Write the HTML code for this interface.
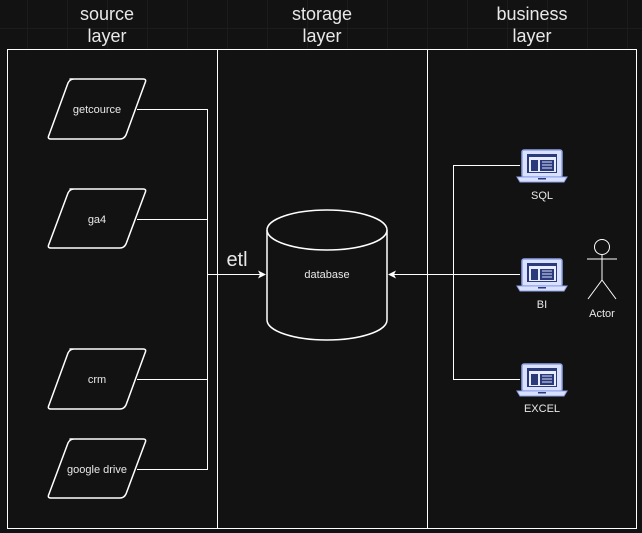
<!DOCTYPE html>
<html><head><style>
html,body{margin:0;padding:0;background:#121212;}
body{width:642px;height:533px;overflow:hidden;position:relative;
background-color:#121212;
background-image:linear-gradient(#1c1c1c 1px,transparent 1px),linear-gradient(90deg,#1c1c1c 1px,transparent 1px);
background-size:40px 40px;background-position:27px 28px;}
svg{position:absolute;left:0;top:0}
text{font-family:"Liberation Sans",sans-serif;fill:#e8e8e8}
</style></head><body>
<svg width="642" height="533" viewBox="0 0 642 533">
<defs>
<marker id="ar" markerWidth="8" markerHeight="8" refX="7" refY="4" orient="auto" markerUnits="userSpaceOnUse">
<path d="M0,0 L8,4 L0,8 L2,4 Z" fill="#fff"/></marker>
<g id="lap">
<rect x="-20" y="-16" width="40" height="27" rx="2" fill="#dae0ff" stroke="#8fa3e8" stroke-width="1.5"/>
<rect x="-15" y="-12" width="30" height="19" fill="#2b3a78"/>
<rect x="-13" y="-9" width="27" height="15" fill="#e8ecff"/>
<rect x="-11" y="-6" width="7" height="11" fill="#2b3a78"/>
<rect x="-2" y="-6" width="14" height="11" fill="#2b3a78"/>
<path d="M0,-4h10M0,-1h10M0,2h10" stroke="#dae0ff" stroke-width="1"/>
<path d="M-25,11 h50 l-3,5 h-44 z" fill="#dae0ff" stroke="#8fa3e8"/>
<rect x="-4" y="12" width="8" height="1.5" fill="#2b3a78"/>
</g>
</defs>
<rect x="0" y="49" width="642" height="484" fill="#121212"/>
<rect x="7.5" y="49.5" width="629" height="479" fill="none" stroke="#fff"/>
<line x1="217.5" y1="49" x2="217.5" y2="529" stroke="#fff"/>
<line x1="427.5" y1="49" x2="427.5" y2="529" stroke="#fff"/>
<g font-size="18" text-anchor="middle">
<text x="107" y="20">source</text><text x="107" y="42">layer</text>
<text x="322" y="20">storage</text><text x="322" y="42">layer</text>
<text x="532" y="20">business</text><text x="532" y="42">layer</text>
</g>
<g fill="none" stroke="#fff" stroke-width="1.5" stroke-linejoin="round">
<path d="M70,79 H143 Q147,79 145,83 L126,135 Q124,139 120,139 H51 Q47,139 49,135 L68,83 Q70,79 74,79Z"/>
<path d="M70,189 H143 Q147,189 145,193 L126,244 Q124,248 120,248 H51 Q47,248 49,244 L68,193 Q70,189 74,189Z"/>
<path d="M70,349 H143 Q147,349 145,353 L126,405 Q124,409 120,409 H51 Q47,409 49,405 L68,353 Q70,349 74,349Z"/>
<path d="M70,439 H143 Q147,439 145,443 L126,494 Q124,498 120,498 H51 Q47,498 49,494 L68,443 Q70,439 74,439Z"/>
</g>
<g font-size="11" text-anchor="middle">
<text x="97" y="113">getcource</text><text x="97" y="223">ga4</text>
<text x="97" y="383">crm</text><text x="97" y="473">google drive</text>
</g>
<g fill="none" stroke="#fff" stroke-width="1">
<path d="M137,109.5 H207.5 V469.5 H137"/>
<path d="M137,219.5 H207.5 M137,379.5 H207.5"/>
<path d="M207.5,274.5 H265" marker-end="url(#ar)"/>
<path d="M520,274.5 H389" marker-end="url(#ar)"/>
<path d="M520,165.5 H453.5 V379.5 H520"/>
</g>
<text x="237" y="266" font-size="20" text-anchor="middle">etl</text>
<g fill="#121212" stroke="#fff" stroke-width="1.5">
<path d="M267,230 V320 A60,20 0 0 0 387,320 V230"/>
<ellipse cx="327" cy="230" rx="60" ry="20"/>
</g>
<text x="327" y="278" font-size="11" text-anchor="middle">database</text>
<use href="#lap" x="542" y="166"/>
<use href="#lap" x="542" y="275"/>
<use href="#lap" x="542" y="380"/>
<g font-size="11" text-anchor="middle">
<text x="542" y="199">SQL</text><text x="542" y="308">BI</text><text x="542" y="412">EXCEL</text>
<text x="602" y="317">Actor</text>
</g>
<g fill="none" stroke="#fff" stroke-width="1">
<circle cx="602" cy="247" r="7.5"/>
<path d="M602,255 V280 M587,259 H617 M602,280 L588,299 M602,280 L616,299"/>
</g>
</svg>
</body></html>
